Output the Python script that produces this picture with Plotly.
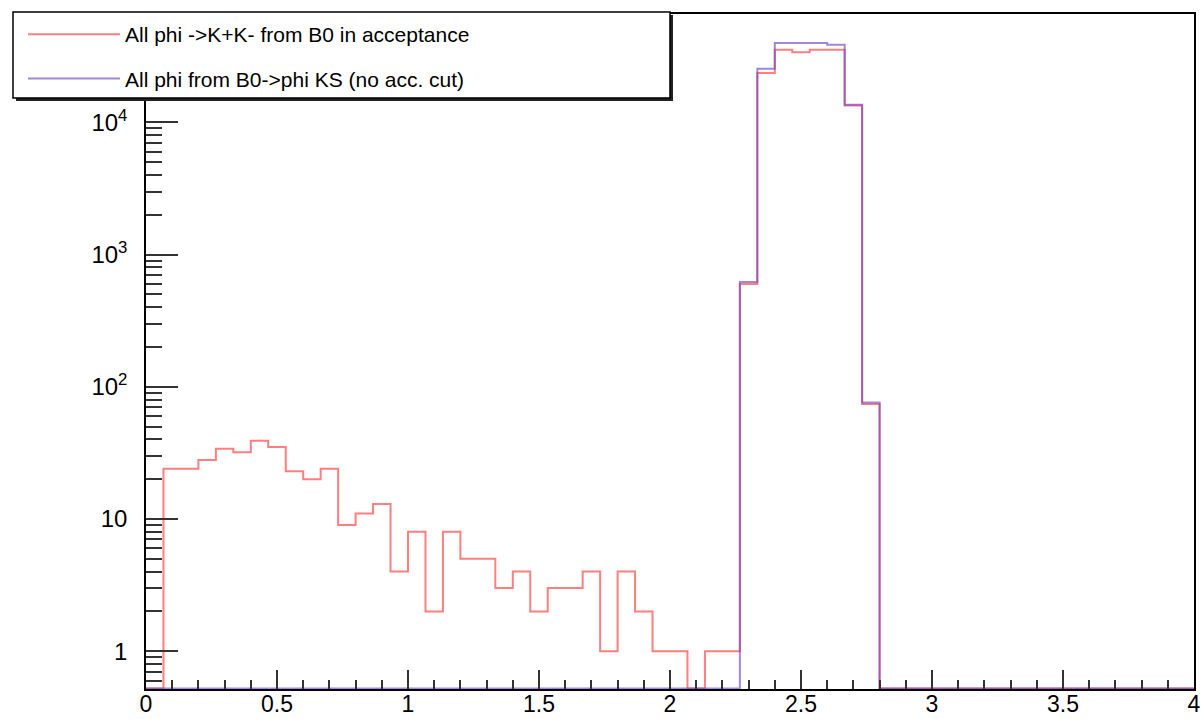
import numpy as np
import plotly.graph_objects as go

# ---- data: 60 bins from 0 to 4 ----
x_min, x_max, n_bins = 0.0, 4.0, 60
red_counts = [0, 24, 24, 28, 34, 32, 39, 35, 23, 20,
              24, 9, 11, 13, 4, 8, 2, 8, 5, 5,
              3, 4, 2, 3, 3, 4, 1, 4, 2, 1,
              1, 0, 1, 1, 600, 23600, 35500, 33900, 35500, 35500,
              13400, 74, 0, 0, 0, 0, 0, 0, 0, 0,
              0, 0, 0, 0, 0, 0, 0, 0, 0, 0]
blue_counts = [0] * 34 + [620, 25500, 39800, 39800, 39800, 38700, 13600, 76] + [0] * 18
red_name = "All phi ->K+K- from B0 in acceptance"
blue_name = "All phi from B0->phi KS (no acc. cut)"
x_tick_vals = [0, 0.5, 1, 1.5, 2, 2.5, 3, 3.5, 4]
x_tick_text = ["0", "0.5", "1", "1.5", "2", "2.5", "3", "3.5", "4"]
y_tick_vals = [1, 10, 100, 1000, 10000]
y_tick_text = ["1", "10", "10<sup>2</sup>", "10<sup>3</sup>", "10<sup>4</sup>"]

y_log_range = [-0.286, 4.82]
# empty bins are drawn along the bottom of the frame (ROOT style)
y_floor = 10 ** (y_log_range[0] + 0.004)

edges = np.linspace(x_min, x_max, n_bins + 1)


def step_y(counts):
    vals = [c if c > 0 else y_floor for c in counts]
    return vals + [vals[-1]]


fig = go.Figure()
fig.add_trace(go.Scatter(x=edges, y=step_y(red_counts), mode="lines", line_shape="hv",
                         line=dict(color="rgba(255,40,40,0.6)", width=2),
                         name=red_name, legendgroup="a"))
fig.add_trace(go.Scatter(x=edges, y=step_y(blue_counts), mode="lines", line_shape="hv",
                         line=dict(color="rgba(110,70,200,0.65)", width=2),
                         name=blue_name, legendgroup="b"))

minor_vals = [m * 10 ** e for e in range(-1, 5) for m in range(2, 10)]

# legend frame (ROOT style box with shadow), in paper coordinates
W, H, L, B = 1048.0, 675.0, 146.0, 30.0
def px_x(p):
    return (p - L) / W
def px_y(p):
    return (719 - B - p) / H

fig.add_shape(type="rect", xref="paper", yref="paper", layer="above",
              x0=px_x(16), x1=px_x(673), y0=px_y(101), y1=px_y(15),
              fillcolor="#222", line=dict(width=0))
fig.add_shape(type="rect", xref="paper", yref="paper", layer="above",
              x0=px_x(13), x1=px_x(670), y0=px_y(98), y1=px_y(12),
              fillcolor="white", line=dict(color="black", width=1.5))

fig.update_layout(
    width=1201, height=719,
    margin=dict(l=146, r=7, t=14, b=30),
    paper_bgcolor="white", plot_bgcolor="white",
    font=dict(family="Liberation Sans, Arial, sans-serif", color="black"),
    showlegend=True,
    legend=dict(x=px_x(23), y=px_y(14), xanchor="left", yanchor="top",
                bgcolor="rgba(0,0,0,0)", borderwidth=0,
                font=dict(size=21), itemwidth=92, tracegroupgap=14),
    xaxis=dict(range=[x_min, x_max], showline=True, linecolor="black", linewidth=1.5,
               mirror=True, showgrid=False, zeroline=False, automargin=False,
               ticks="inside", ticklen=19, tickwidth=1.5, tickcolor="#333",
               tickvals=x_tick_vals, ticktext=x_tick_text,
               tickfont=dict(size=23), ticklabelstandoff=-6,
               minor=dict(dtick=0.1, tick0=0, ticks="inside", ticklen=9,
                          tickwidth=1.5, tickcolor="#333", showgrid=False)),
    yaxis=dict(type="log", range=y_log_range, showline=True, linecolor="black",
               linewidth=1.5, mirror=True, showgrid=False, zeroline=False, automargin=False,
               ticks="inside", ticklen=32, tickwidth=1.5, tickcolor="#333",
               tickvals=y_tick_vals, ticktext=y_tick_text,
               tickfont=dict(size=24), ticklabelstandoff=12,
               minor=dict(tickmode="array", tickvals=minor_vals, ticks="inside",
                          ticklen=16, tickwidth=1.5, tickcolor="#333", showgrid=False)),
)

fig.write_html("out.html")
